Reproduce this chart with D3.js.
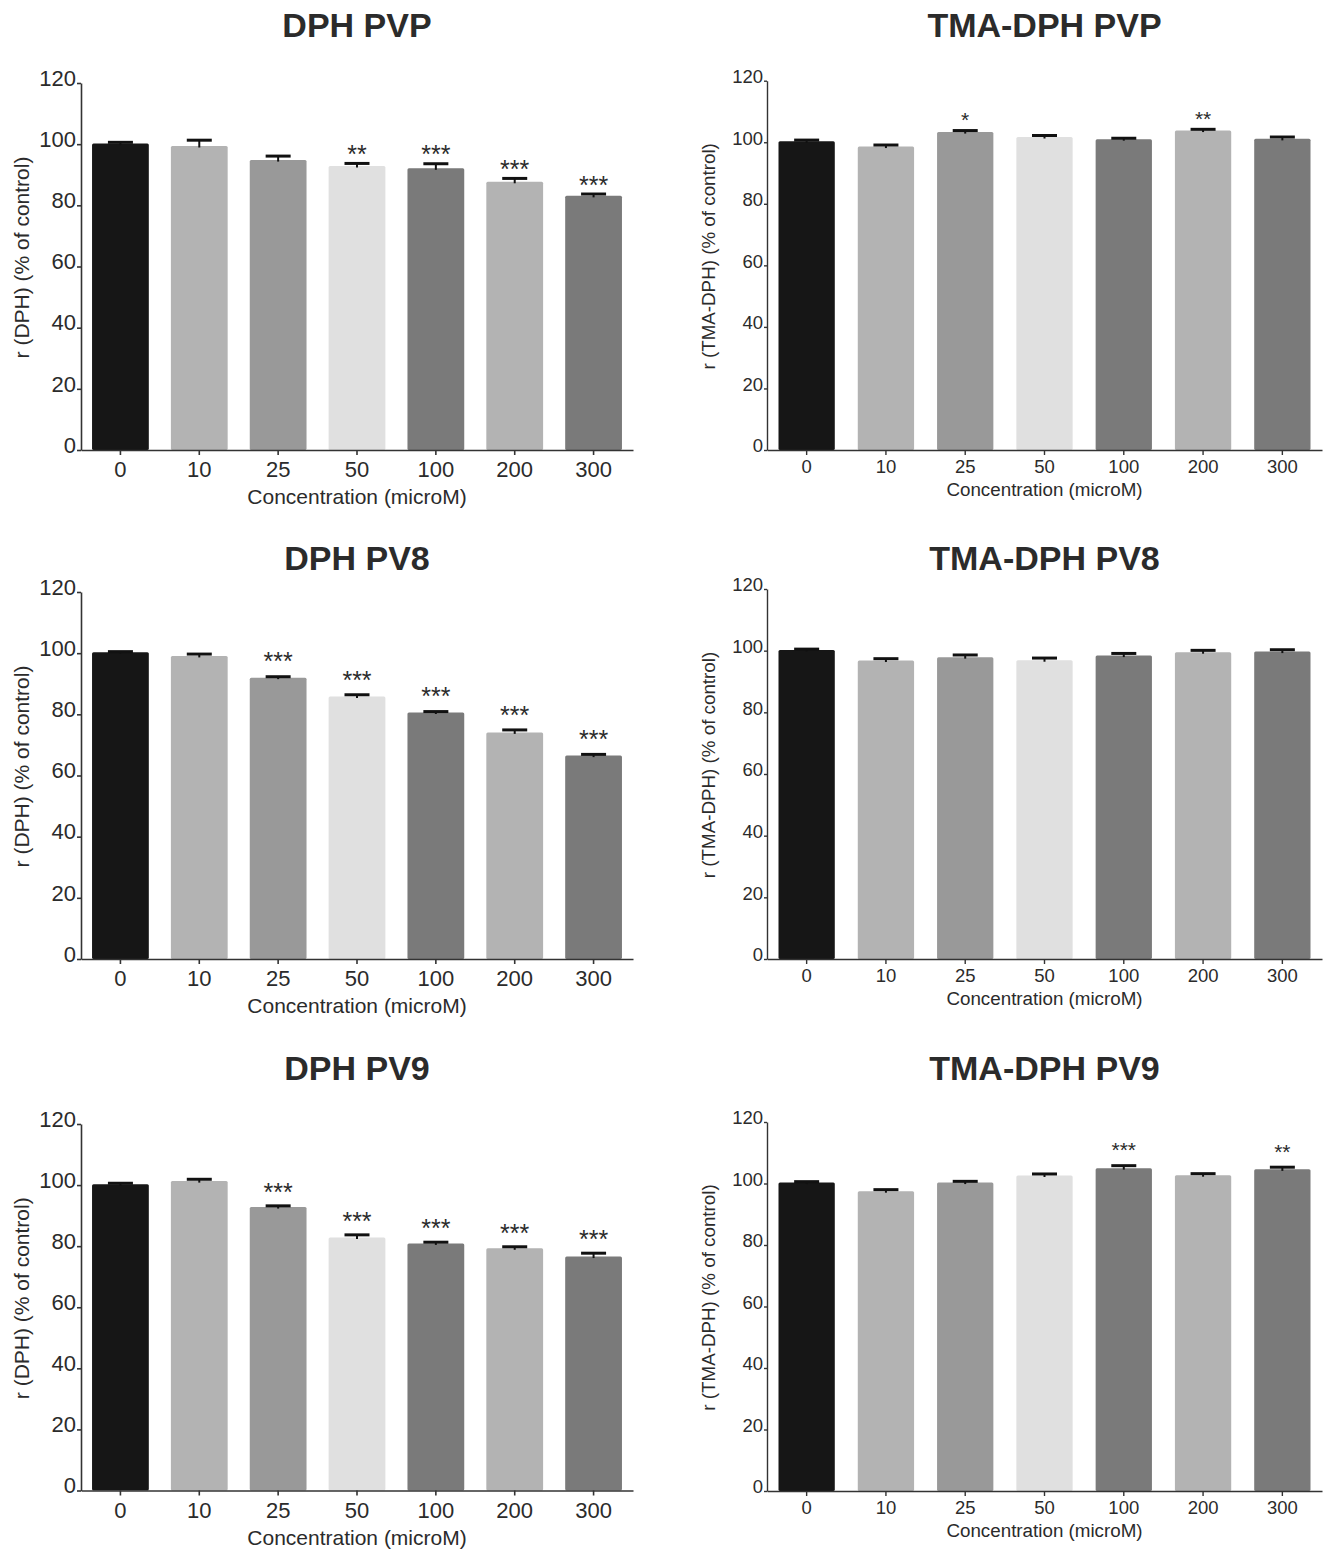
<!DOCTYPE html>
<html>
<head>
<meta charset="utf-8">
<script src="https://cdn.jsdelivr.net/npm/d3@7"></script>
<style>
  body { margin: 0; background: #fff; }
  svg text { font-family: "Liberation Sans", Arial, Helvetica, sans-serif; fill: #2b2b2b; }
</style>
</head>
<body>
<div id="chart"></div>
<script>
// categories + shared stuff
var concentrations = ["0", "10", "25", "50", "100", "200", "300"];
var barColors = ["#161616", "#b3b3b3", "#999999", "#e0e0e0", "#7a7a7a", "#b3b3b3", "#7a7a7a"];
var yTicks = [0, 20, 40, 60, 80, 100, 120];

// DPH PVP
var dphPVP_mean = [100.2, 99.4, 94.8, 92.9, 92.1, 87.7, 83.1];
var dphPVP_sem = [0.4, 1.9, 1.3, 0.8, 1.5, 1.1, 0.6];
var dphPVP_sig = ["", "", "", "**", "***", "***", "***"];

// TMA-DPH PVP
var tmaPVP_mean = [100.3, 98.6, 103.3, 101.7, 101.0, 103.8, 101.1];
var tmaPVP_sem = [0.4, 0.5, 0.5, 0.5, 0.3, 0.4, 0.6];
var tmaPVP_sig = ["", "", "*", "", "", "**", ""];

// DPH PV8
var dphPV8_mean = [100.3, 99.1, 92.0, 85.8, 80.6, 74.1, 66.5];
var dphPV8_sem = [0.2, 0.6, 0.3, 0.6, 0.3, 0.8, 0.4];
var dphPV8_sig = ["", "", "***", "***", "***", "***", "***"];

// TMA-DPH PV8
var tmaPV8_mean = [100.2, 96.8, 97.9, 96.9, 98.4, 99.5, 99.7];
var tmaPV8_sem = [0.3, 0.6, 0.7, 0.7, 0.7, 0.6, 0.6];
var tmaPV8_sig = ["", "", "", "", "", "", ""];

// DPH PV9
var dphPV9_mean = [100.3, 101.3, 92.8, 82.8, 80.9, 79.3, 76.6];
var dphPV9_sem = [0.3, 0.6, 0.4, 0.9, 0.4, 0.5, 1.1];
var dphPV9_sig = ["", "", "***", "***", "***", "***", "***"];

// TMA-DPH PV9
var tmaPV9_mean = [100.3, 97.5, 100.3, 102.6, 105.0, 102.7, 104.6];
var tmaPV9_sem = [0.3, 0.5, 0.4, 0.5, 0.8, 0.5, 0.7];
var tmaPV9_sig = ["", "", "", "", "***", "", "**"];

// left column (DPH) and right column (TMA-DPH) have slightly different styling
var leftStyle = { x0: 81, x1: 633, pad: 0.28, tickFont: 22, labelFont: 21, starFont: 25,
                  xTickDy: 27, xLabelDy: 54, yTitleX: 22, axisW: 1.6, tickLen: 4,
                  yTitle: "r (DPH) (% of control)" };
var rightStyle = { x0: 767, x1: 1322, pad: 0.29, tickFont: 18.5, labelFont: 18.8, starFont: 21,
                   xTickDy: 23, xLabelDy: 46, yTitleX: 708, axisW: 1.4, tickLen: 3,
                   yTitle: "r (TMA-DPH) (% of control)" };

// starGap = distance from error cap to the middle of the asterisks
var panels = [
    { title: "DPH PVP", mean: dphPVP_mean, sem: dphPVP_sem, sig: dphPVP_sig, st: leftStyle, top: 83, bottom: 450, titleY: 37, starGap: 14 },
    { title: "TMA-DPH PVP", mean: tmaPVP_mean, sem: tmaPVP_sem, sig: tmaPVP_sig, st: rightStyle, top: 80.7, bottom: 450, titleY: 37, starGap: 15 },
    { title: "DPH PV8", mean: dphPV8_mean, sem: dphPV8_sem, sig: dphPV8_sig, st: leftStyle, top: 592, bottom: 959, titleY: 570, starGap: 20 },
    { title: "TMA-DPH PV8", mean: tmaPV8_mean, sem: tmaPV8_sem, sig: tmaPV8_sig, st: rightStyle, top: 589, bottom: 959, titleY: 570, starGap: 18 },
    { title: "DPH PV9", mean: dphPV9_mean, sem: dphPV9_sem, sig: dphPV9_sig, st: leftStyle, top: 1124, bottom: 1490.5, titleY: 1080, starGap: 19 },
    { title: "TMA-DPH PV9", mean: tmaPV9_mean, sem: tmaPV9_sem, sig: tmaPV9_sig, st: rightStyle, top: 1122, bottom: 1491, titleY: 1080, starGap: 20 }
];

var svg = d3.select("#chart")
    .append("svg")
    .attr("width", 1326)
    .attr("height", 1549);

panels.forEach(function (p) {
    var st = p.st;
    var g = svg.append("g");

    var x = d3.scaleBand()
        .domain(concentrations)
        .range([st.x0, st.x1])
        .paddingInner(st.pad)
        .paddingOuter(st.pad / 2);

    var y = d3.scaleLinear()
        .domain([0, 120])
        .range([p.bottom, p.top]);

    var rows = concentrations.map(function (c, i) {
        return { c: c, v: p.mean[i], e: p.sem[i], s: p.sig[i], col: barColors[i] };
    });

    // bars
    g.selectAll(".bar")
        .data(rows)
        .enter()
        .append("rect")
        .attr("x", function (d) { return x(d.c); })
        .attr("y", function (d) { return y(d.v); })
        .attr("width", x.bandwidth())
        .attr("height", function (d) { return y(0) - y(d.v); })
        .attr("rx", 1.5)
        .attr("fill", function (d) { return d.col; });

    // error bars (upper half only + a bit into the bar)
    var capW = 25;
    g.selectAll(".stem")
        .data(rows)
        .enter()
        .append("line")
        .attr("x1", function (d) { return x(d.c) + x.bandwidth() / 2; })
        .attr("x2", function (d) { return x(d.c) + x.bandwidth() / 2; })
        .attr("y1", function (d) { return y(d.v) + 1.5; })
        .attr("y2", function (d) { return y(d.v + d.e); })
        .attr("stroke", "#111")
        .attr("stroke-width", 2);
    g.selectAll(".cap")
        .data(rows)
        .enter()
        .append("line")
        .attr("x1", function (d) { return x(d.c) + x.bandwidth() / 2 - capW / 2; })
        .attr("x2", function (d) { return x(d.c) + x.bandwidth() / 2 + capW / 2; })
        .attr("y1", function (d) { return y(d.v + d.e); })
        .attr("y2", function (d) { return y(d.v + d.e); })
        .attr("stroke", "#111")
        .attr("stroke-width", 3);

    // significance stars
    g.selectAll(".star")
        .data(rows.filter(function (d) { return d.s != ""; }))
        .enter()
        .append("text")
        .attr("x", function (d) { return x(d.c) + x.bandwidth() / 2; })
        .attr("y", function (d) { return y(d.v + d.e) - p.starGap + st.starFont * 0.55; })
        .attr("text-anchor", "middle")
        .style("font-size", st.starFont + "px")
        .text(function (d) { return d.s; });

    // y axis
    var yAxis = g.append("g")
        .attr("transform", "translate(" + st.x0 + ",0)")
        .call(d3.axisLeft(y).tickValues(yTicks).tickSize(st.tickLen).tickSizeOuter(0).tickPadding(1));
    yAxis.select(".domain").attr("stroke", "#333").attr("stroke-width", st.axisW);
    yAxis.selectAll(".tick line").attr("stroke", "#333").attr("stroke-width", st.axisW);
    yAxis.selectAll(".tick text")
        .style("font-size", st.tickFont + "px")
        .attr("fill", "#2b2b2b")
        .attr("dy", "0.1em");

    // x axis
    var xAxis = g.append("g")
        .attr("transform", "translate(0," + p.bottom + ")")
        .call(d3.axisBottom(x).tickSize(5).tickSizeOuter(0).tickPadding(0));
    xAxis.select(".domain").attr("stroke", "#333").attr("stroke-width", st.axisW);
    xAxis.selectAll(".tick line").attr("stroke", "#333").attr("stroke-width", st.axisW);
    xAxis.selectAll(".tick text")
        .style("font-size", st.tickFont + "px")
        .attr("fill", "#2b2b2b")
        .attr("y", st.xTickDy)
        .attr("dy", 0);

    // axis labels
    g.append("text")
        .attr("x", (st.x0 + st.x1) / 2)
        .attr("y", p.bottom + st.xLabelDy)
        .attr("text-anchor", "middle")
        .style("font-size", st.labelFont + "px")
        .text("Concentration (microM)");

    g.append("text")
        .attr("transform", "translate(" + st.yTitleX + "," + ((p.top + p.bottom) / 2 - 9) + ") rotate(-90)")
        .attr("text-anchor", "middle")
        .attr("dy", "0.35em")
        .style("font-size", st.labelFont + "px")
        .text(st.yTitle);

    // title
    g.append("text")
        .attr("x", (st.x0 + st.x1) / 2)
        .attr("y", p.titleY)
        .attr("text-anchor", "middle")
        .style("font-size", "34px")
        .style("font-weight", "bold")
        .text(p.title);
});
</script>
</body>
</html>
